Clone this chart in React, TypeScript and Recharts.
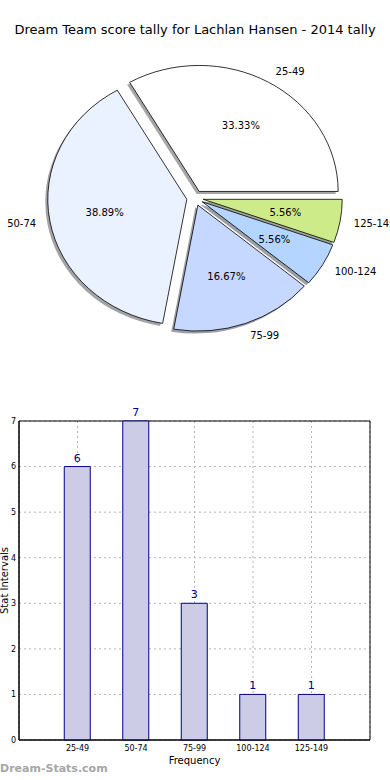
import { PieChart, Pie, BarChart, Bar, XAxis, YAxis, CartesianGrid, LabelList, Label, ReferenceArea } from "recharts";

const INTERVALS = ["25-49", "50-74", "75-99", "100-124", "125-149"];
const COUNTS = [6, 7, 3, 1, 1];
const SLICE_COLORS = ["#FFFFFF", "#EAF1FF", "#C6D8FF", "#B4D5FF", "#CEEB8A"];
const X_TICKS = [0, 1, 2, 3, 4];
const Y_TICKS = [0, 1, 2, 3, 4, 5, 6, 7];

const FONT = "'DejaVu Sans', sans-serif";
const RAD = Math.PI / 180;
const RX = 139;
const RY = 126;
const EXPLODE = 0.06;

const pieData = INTERVALS.map((name, i) => ({ name, value: COUNTS[i], fill: SLICE_COLORS[i] }));
const barData = INTERVALS.map((name, i) => ({ pos: i, name, count: COUNTS[i] }));

// matplotlib-style shadow: 0.3 * face colour at half alpha
const shade = (hex: string) => {
  const n = parseInt(hex.slice(1), 16);
  const r = Math.round(((n >> 16) & 255) * 0.3);
  const g = Math.round(((n >> 8) & 255) * 0.3);
  const b = Math.round((n & 255) * 0.3);
  return `rgb(${r},${g},${b})`;
};

// pie is drawn squashed (axes not equal aspect), so wedges are elliptical
const geom = (p: any) => {
  const rx = p.outerRadius;
  const ry = (p.outerRadius * RY) / RX;
  const mid = (p.startAngle + p.endAngle) / 2;
  const ox = p.cx + EXPLODE * rx * Math.cos(mid * RAD);
  const oy = p.cy - EXPLODE * ry * Math.sin(mid * RAD);
  return { rx, ry, mid, ox, oy };
};

const wedgePath = (cx: number, cy: number, rx: number, ry: number, a0: number, a1: number) => {
  const x0 = cx + rx * Math.cos(a0 * RAD);
  const y0 = cy - ry * Math.sin(a0 * RAD);
  const x1 = cx + rx * Math.cos(a1 * RAD);
  const y1 = cy - ry * Math.sin(a1 * RAD);
  const large = Math.abs(a1 - a0) > 180 ? 1 : 0;
  return `M${cx},${cy} L${x0},${y0} A${rx},${ry} 0 ${large} 0 ${x1},${y1} Z`;
};

const Wedge = (props: any) => {
  const { rx, ry, ox, oy } = geom(props);
  return (
    <path
      d={wedgePath(ox, oy, rx, ry, props.startAngle, props.endAngle)}
      fill={props.payload?.fill ?? props.fill}
      stroke="#000"
      strokeWidth={0.8}
    />
  );
};

const WedgeShadow = (props: any) => {
  const { rx, ry, ox, oy } = geom(props);
  const face = props.payload?.fill ?? props.fill ?? "#FFFFFF";
  return (
    <path
      d={wedgePath(ox - 2.5, oy + 2.5, rx, ry, props.startAngle, props.endAngle)}
      fill={shade(face)}
      fillOpacity={0.5}
      stroke="none"
    />
  );
};

const renderPieLabel = (props: any) => {
  const { rx, ry, mid, ox, oy } = geom(props);
  const c = Math.cos(mid * RAD);
  const s = Math.sin(mid * RAD);
  return (
    <g>
      <text
        x={ox + 1.1 * rx * c}
        y={oy - 1.1 * ry * s}
        textAnchor={c >= 0 ? "start" : "end"}
        dominantBaseline="central"
        fontSize={10}
        fontFamily={FONT}
        fill="#000"
      >
        {props.name}
      </text>
      <text
        x={ox + 0.6 * rx * c}
        y={oy - 0.6 * ry * s}
        textAnchor="middle"
        dominantBaseline="central"
        fontSize={10}
        fontFamily={FONT}
        fill="#000"
      >
        {(props.percent * 100).toFixed(2)}%
      </text>
    </g>
  );
};

const App = () => {
  return (
    <div style={{ position: "absolute", left: 0, top: 0, width: 390, height: 780, background: "#fff", fontFamily: FONT }}>
      <div style={{ position: "absolute", left: 0, top: 22, width: 390, textAlign: "center", fontSize: 13, lineHeight: "16px", color: "#000" }}>
        Dream Team score tally for Lachlan Hansen - 2014 tally
      </div>

      <div style={{ position: "absolute", left: 0, top: 0 }}>
        <PieChart width={390} height={360} margin={{ top: 0, right: 0, bottom: 0, left: 0 }}>
          <Pie
            data={pieData}
            dataKey="value"
            nameKey="name"
            cx={195}
            cy={198}
            outerRadius={RX}
            startAngle={0}
            endAngle={360}
            shape={WedgeShadow}
            activeShape={WedgeShadow}
            label={false}
            labelLine={false}
            isAnimationActive={false}
          />
          <Pie
            data={pieData}
            dataKey="value"
            nameKey="name"
            cx={195}
            cy={198}
            outerRadius={RX}
            startAngle={0}
            endAngle={360}
            shape={Wedge}
            activeShape={Wedge}
            label={renderPieLabel}
            labelLine={false}
            isAnimationActive={false}
          />
        </PieChart>
      </div>

      <div style={{ position: "absolute", left: 0, top: 380 }}>
        <BarChart width={390} height={400} data={barData} margin={{ top: 41, right: 20, bottom: 10, left: 0 }}>
          <XAxis
            dataKey="pos"
            type="number"
            domain={[-1, 5]}
            ticks={X_TICKS}
            interval={0}
            tickFormatter={(v: number) => INTERVALS[v] ?? ""}
            tickLine={false}
            tickSize={0}
            tickMargin={5}
            axisLine={{ stroke: "#000" }}
            tick={{ fontSize: 8, fill: "#000", fontFamily: FONT }}
            height={30}
          >
            <Label value="Frequency" position="insideBottom" offset={6} fontSize={10} fill="#000" fontFamily={FONT} />
          </XAxis>
          <YAxis
            type="number"
            domain={[0, 7]}
            ticks={Y_TICKS}
            interval={0}
            tickLine={false}
            tickSize={0}
            tickMargin={3}
            axisLine={{ stroke: "#000" }}
            tick={{ fontSize: 8, fill: "#000", fontFamily: FONT }}
            width={19}
          >
            <Label
              content={(p: any) => {
                const vb = p.viewBox ?? { x: 0, y: 41, width: 19, height: 319 };
                const x = vb.x + 8;
                const y = vb.y + vb.height / 2;
                return (
                  <text x={x} y={y} transform={`rotate(-90 ${x} ${y})`} textAnchor="middle" fontSize={10} fontFamily={FONT} fill="#000">
                    Stat Intervals
                  </text>
                );
              }}
            />
          </YAxis>
          <Bar dataKey="count" barSize={26} fill="#CCCCE6" stroke="#00008B" strokeWidth={1} isAnimationActive={false}>
            <LabelList dataKey="count" position="top" offset={5} fill="#00008B" fontSize={11} fontFamily={FONT} />
          </Bar>
          <CartesianGrid stroke="#b4b4b4" strokeDasharray="2 3" />
          <ReferenceArea x1={-1} x2={5} y1={0} y2={7} fill="none" stroke="#000" strokeWidth={1} ifOverflow="visible" />
        </BarChart>
      </div>

      <div style={{ position: "absolute", left: 0, top: 762, fontSize: 11, fontWeight: "bold", color: "#a6a6a6", lineHeight: "14px" }}>
        Dream-Stats.com
      </div>
    </div>
  );
};

export default App;
